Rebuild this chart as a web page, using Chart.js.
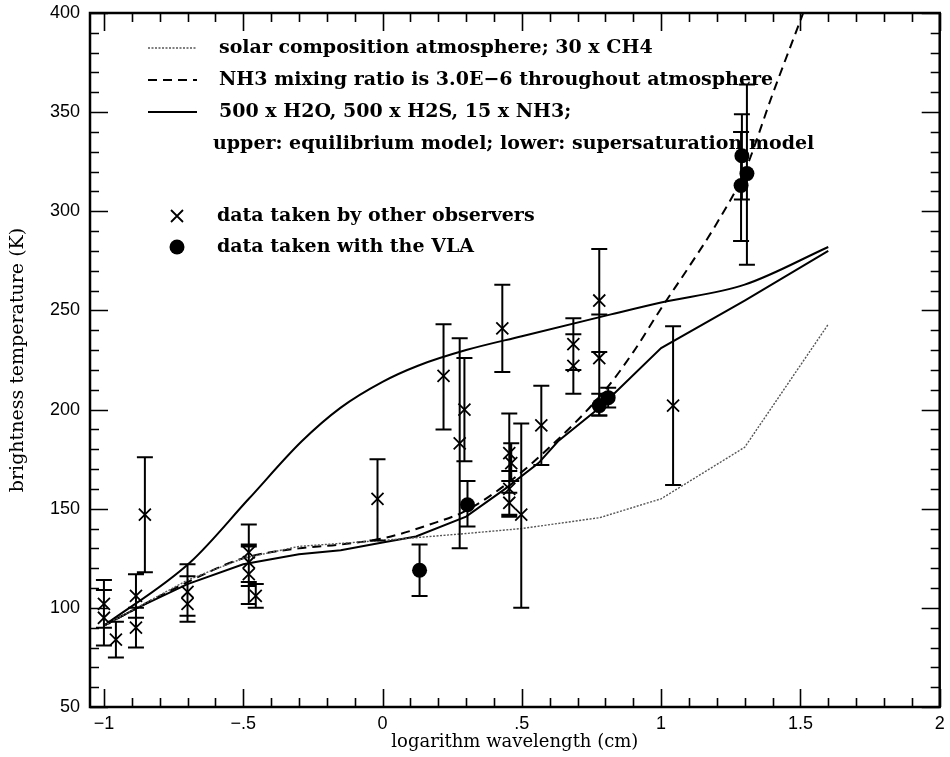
<!DOCTYPE html>
<html><head><meta charset="utf-8">
<script src="https://cdn.jsdelivr.net/npm/chart.js@4"></script>
<style>html,body{margin:0;padding:0;background:#fff}#wrap{width:950px;height:757px}</style>
</head><body><div id="wrap"><canvas id="c" width="950" height="757"></canvas></div>
<script>
// ---- tick labels ----
const xMajorTicks = [-1, -0.5, 0, 0.5, 1, 1.5, 2];
const xTickLabels = ['\u22121', '\u2212.5', '0', '.5', '1', '1.5', '2'];
const yMajorTicks = [50, 100, 150, 200, 250, 300, 350, 400];
const yTickLabels = ['50', '100', '150', '200', '250', '300', '350', '400'];

// ---- model curves (log wavelength, brightness temperature) ----
const dottedX = [-1.0, -0.7, -0.5, -0.3, 0.0, 0.3, 0.5, 0.78, 1.0, 1.3, 1.6];
const dottedY = [91, 114, 125, 131, 134, 137.5, 140, 145.5, 155, 181, 243];

const dashedX = [-1.0, -0.7, -0.5, -0.3, -0.15, 0.0, 0.19, 0.3, 0.45, 0.6, 0.8, 0.9, 1.0, 1.1, 1.2, 1.3, 1.4, 1.51];
const dashedY = [91, 113, 125, 130, 132, 135, 143, 149, 163, 181, 210, 229, 251, 272, 294, 320, 359, 400];

const upperX = [-1.0, -0.69, -0.48, -0.29, -0.15, 0.0, 0.125, 0.3, 0.5, 0.82, 1.0, 1.3, 1.6];
const upperY = [91, 123, 155, 184, 201, 214, 222, 230, 237, 248, 254, 263, 282];

const lowerX = [-1.0, -0.88, -0.7, -0.5, -0.3, -0.15, 0.0, 0.12, 0.3, 0.44, 0.56, 0.63, 0.78, 1.0, 1.3, 1.6];
const lowerY = [91, 100, 112, 122, 127, 129, 133, 136, 146, 160, 173, 184, 201, 231, 255, 280];

// ---- data taken by other observers ----
const othersX  = [-1.0, -1.0, -0.957, -0.885, -0.885, -0.853, -0.70, -0.70, -0.48, -0.48, -0.48, -0.455, -0.018, 0.219, 0.277, 0.294, 0.43, 0.455, 0.462, 0.455, 0.455, 0.498, 0.57, 0.685, 0.685, 0.778, 0.778, 1.043];
const othersY  = [102, 95, 84, 106, 90, 147, 108, 102, 128, 123, 117, 106, 155, 217, 183, 200, 241, 178, 173, 160, 153, 147, 192, 233, 222, 255, 226, 202];
const othersLo = [90, 81, 75, 95, 80, 118, 93, 96, 113, 111, 102, 100, 134, 190, 130, 174, 219, 158, 164, 147, 146, 100, 172, 220, 208, 229, 197, 162];
const othersHi = [114, 109, 93, 117, 100, 176, 122, 116, 142, 132, 131, 112, 175, 243, 236, 226, 263, 198, 183, 169, 164, 193, 212, 246, 238, 281, 248, 242];

// ---- data taken with the VLA ----
const vlaX  = [0.133, 0.305, 0.778, 0.81, 1.29, 1.308, 1.287];
const vlaY  = [119, 152, 202, 206, 328, 319, 313];
const vlaLo = [106, 141, 197, 201, 306, 273, 285];
const vlaHi = [132, 164, 208, 211, 349, 364, 340];

const legendText = [
  'solar composition atmosphere; 30 x CH4',
  'NH3 mixing ratio is 3.0E\u22126 throughout atmosphere',
  '500 x H2O, 500 x H2S, 15 x NH3;',
  'upper: equilibrium model; lower: supersaturation model',
  'data taken by other observers',
  'data taken with the VLA'
];

const pts = (xs, ys) => xs.map((v, i) => ({x: v, y: ys[i]}));

const SERIF = '"DejaVu Serif", serif';
const SANS = '"Liberation Sans", Arial, sans-serif';

const dottedStyle = {color: '#555', width: 1.4, dash: [2, 1.5]};
const dashedStyle = {color: '#000', width: 2, dash: [9, 6]};
const solidStyle  = {color: '#000', width: 2, dash: []};

const framePlugin = {
  id: 'frame',
  afterDatasetsDraw(chart) {
    const {ctx, chartArea: a, scales: {x, y}} = chart;
    ctx.save();
    ctx.strokeStyle = '#000';
    ctx.lineWidth = 1.6;
    const MAJ = 18, MIN = 9;
    ctx.beginPath();
    for (let k = -10; k <= 20; k++) {
      const v = k / 10;
      const px = Math.round(x.getPixelForValue(v)) + 0.5;
      const L = (k % 5 === 0) ? MAJ : MIN;
      ctx.moveTo(px, a.bottom); ctx.lineTo(px, a.bottom - L);
      ctx.moveTo(px, a.top); ctx.lineTo(px, a.top + L);
    }
    for (let v = 50; v <= 400; v += 10) {
      const py = Math.round(y.getPixelForValue(v)) + 0.5;
      const L = (v % 50 === 0) ? MAJ : MIN;
      ctx.moveTo(a.left, py); ctx.lineTo(a.left + L, py);
      ctx.moveTo(a.right, py); ctx.lineTo(a.right - L, py);
    }
    ctx.stroke();
    ctx.lineWidth = 2.5;
    ctx.strokeRect(a.left, a.top, a.right - a.left, a.bottom - a.top);

    // error bars
    ctx.lineWidth = 2;
    const bars = (xs, lo, hi, cap) => {
      ctx.beginPath();
      for (let i = 0; i < xs.length; i++) {
        const px = x.getPixelForValue(xs[i]);
        const p1 = y.getPixelForValue(lo[i]);
        const p2 = y.getPixelForValue(hi[i]);
        ctx.moveTo(px, p1); ctx.lineTo(px, p2);
        ctx.moveTo(px - cap, p1); ctx.lineTo(px + cap, p1);
        ctx.moveTo(px - cap, p2); ctx.lineTo(px + cap, p2);
      }
      ctx.stroke();
    };
    bars(othersX, othersLo, othersHi, 8);
    bars(vlaX, vlaLo, vlaHi, 8);
    ctx.restore();
  },
  afterDraw(chart) {
    const {ctx} = chart;
    ctx.save();
    ctx.fillStyle = '#000';
    ctx.textBaseline = 'middle';
    ctx.textAlign = 'left';
    ctx.font = 'bold 19px ' + SERIF;
    const rows = [48, 80, 112];
    const styles = [dottedStyle, dashedStyle, solidStyle];
    for (let i = 0; i < 3; i++) {
      const s = styles[i];
      ctx.strokeStyle = s.color; ctx.lineWidth = s.width; ctx.setLineDash(s.dash);
      ctx.beginPath(); ctx.moveTo(148, rows[i]); ctx.lineTo(197, rows[i]); ctx.stroke();
      ctx.fillText(legendText[i], 219, rows[i]);
    }
    ctx.setLineDash([]);
    ctx.fillText(legendText[3], 213, 144);
    ctx.fillText(legendText[4], 217, 216);
    ctx.fillText(legendText[5], 217, 247);
    // markers
    ctx.strokeStyle = '#000'; ctx.lineWidth = 1.8;
    ctx.beginPath();
    ctx.moveTo(171, 210); ctx.lineTo(183, 222);
    ctx.moveTo(183, 210); ctx.lineTo(171, 222);
    ctx.stroke();
    ctx.beginPath(); ctx.arc(177, 247, 7.5, 0, Math.PI * 2); ctx.fill();
    ctx.restore();
  }
};

new Chart(document.getElementById('c'), {
  type: 'scatter',
  data: {
    datasets: [
      {label: 'solar composition atmosphere; 30 x CH4', data: pts(dottedX, dottedY), showLine: true,
       borderColor: dottedStyle.color, borderWidth: dottedStyle.width, borderDash: dottedStyle.dash, pointRadius: 0, tension: 0},
      {label: 'NH3 mixing ratio is 3.0E-6', data: pts(dashedX, dashedY), showLine: true,
       borderColor: '#000', borderWidth: 2, borderDash: dashedStyle.dash, pointRadius: 0, cubicInterpolationMode: 'monotone'},
      {label: 'equilibrium model', data: pts(upperX, upperY), showLine: true,
       borderColor: '#000', borderWidth: 2, pointRadius: 0, cubicInterpolationMode: 'monotone'},
      {label: 'supersaturation model', data: pts(lowerX, lowerY), showLine: true,
       borderColor: '#000', borderWidth: 2, pointRadius: 0, tension: 0},
      {label: 'data taken by other observers', data: pts(othersX, othersY), showLine: false,
       pointStyle: 'crossRot', pointRadius: 8.5, borderColor: '#000', borderWidth: 1.8, backgroundColor: '#000'},
      {label: 'data taken with the VLA', data: pts(vlaX, vlaY), showLine: false,
       pointStyle: 'circle', pointRadius: 7.5, borderColor: '#000', borderWidth: 0, backgroundColor: '#000'}
    ]
  },
  options: {
    responsive: false, animation: false, devicePixelRatio: 1,
    layout: {padding: {left: 0, right: 8, top: 13, bottom: 0}},
    plugins: {legend: {display: false}, tooltip: {enabled: false}},
    scales: {
      x: {
        type: 'linear', position: 'bottom', min: -1.05, max: 2.0,
        grid: {display: false, drawTicks: false}, border: {display: false},
        afterBuildTicks: s => { s.ticks = xMajorTicks.map(v => ({value: v})); },
        afterFit: s => { s.height = 50; s.paddingLeft = 0; s.paddingRight = 0; },
        ticks: {color: '#000', padding: 6, maxRotation: 0, autoSkip: false,
          font: {family: SANS, size: 18},
          callback: v => xTickLabels[xMajorTicks.indexOf(v)]},
        title: {display: true, text: 'logarithm wavelength (cm)', color: '#000',
          font: {family: SERIF, size: 18}, padding: {top: 0, bottom: 4}}
      },
      y: {
        type: 'linear', position: 'left', min: 50, max: 400,
        grid: {display: false, drawTicks: false}, border: {display: false},
        afterBuildTicks: s => { s.ticks = yMajorTicks.map(v => ({value: v})); },
        afterFit: s => { s.width = 90; s.paddingTop = 0; s.paddingBottom = 0; },
        ticks: {color: '#000', padding: 10, autoSkip: false,
          font: {family: SANS, size: 18},
          callback: v => yTickLabels[yMajorTicks.indexOf(v)]},
        title: {display: true, text: 'brightness temperature (K)', color: '#000',
          font: {family: SERIF, size: 19}, padding: {top: 7, bottom: 0}}
      }
    }
  },
  plugins: [framePlugin]
});
</script>
</body></html>
